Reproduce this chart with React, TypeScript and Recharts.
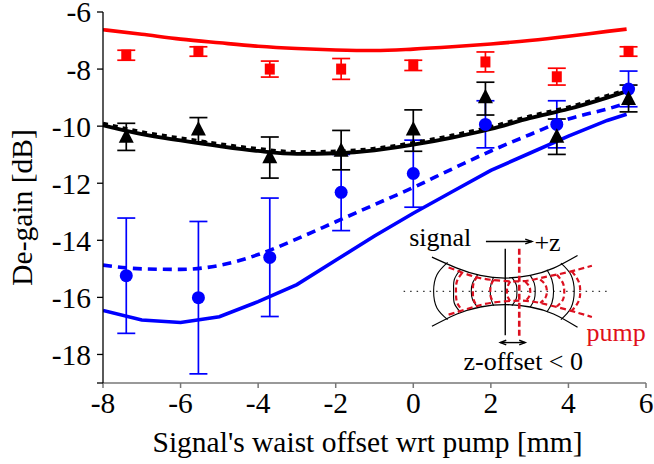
import React from "react";
import { ComposedChart, Line, Scatter, ErrorBar, XAxis, YAxis, ReferenceDot } from "recharts";

// Model curves
const curveX = [-8, -7, -6, -5, -4, -3, -2, -1, 0, 1, 2, 3, 4, 5, 5.5];
const redCurve = [-6.62, -6.78, -6.95, -7.08, -7.2, -7.28, -7.33, -7.35, -7.3, -7.22, -7.12, -7.0, -6.85, -6.68, -6.6];
const blackCurve = [-9.97, -10.28, -10.5, -10.7, -10.87, -10.97, -10.95, -10.85, -10.65, -10.4, -10.1, -9.72, -9.4, -9.0, -8.78];
const blackDashed = [-9.9, -10.2, -10.42, -10.62, -10.79, -10.9, -10.88, -10.78, -10.58, -10.32, -10.02, -9.65, -9.33, -8.93, -8.72];
const blueDashed = [-14.87, -15.0, -15.02, -14.88, -14.5, -13.95, -13.35, -12.75, -12.15, -11.5, -10.87, -10.3, -9.75, -9.4, -9.2];
const blueCurve = [-16.46, -16.79, -16.88, -16.68, -16.15, -15.55, -14.7, -13.85, -13.05, -12.3, -11.55, -10.95, -10.35, -9.8, -9.58];

// Measurements
const measX = [-7.4, -5.54, -3.7, -1.86, 0, 1.86, 3.7, 5.55];
const redY = [-7.51, -7.38, -8.0, -8.0, -7.86, -7.75, -8.27, -7.38];
const redHi = [-7.34, -7.22, -7.72, -7.63, -7.69, -7.4, -7.97, -7.22];
const redLo = [-7.69, -7.55, -8.28, -8.36, -8.05, -8.1, -8.56, -7.55];
const blackY = [-10.35, -10.1, -11.07, -10.84, -10.1, -8.97, -10.35, -9.03];
const blackHi = [-9.9, -9.7, -10.38, -10.15, -9.43, -8.46, -9.75, -8.56];
const blackLo = [-10.85, -10.55, -11.82, -11.53, -10.88, -9.61, -10.99, -9.5];
const blueY = [-15.24, -16.01, -14.6, -12.32, -11.66, -9.94, -9.94, -8.7];
const blueHi = [-13.22, -13.34, -12.52, -10.99, -10.49, -9.11, -9.11, -8.07];
const blueLo = [-17.26, -18.68, -16.67, -13.66, -12.84, -10.76, -10.76, -9.32];

const xTicks = [-8, -6, -4, -2, 0, 2, 4, 6];
const yTicks = [-19, -18, -16, -14, -12, -10, -8, -6];

// Inset schematic, in schematic units mapped to axis units by fromInset
type P = [number, number];
const fromInset = (pts: P[]) => pts.map(([a, b]) => ({ x: (a - 69) / 116.4, y: -13.458 - b / 85.8 }));
const signalEdges: P[][] = [
  [[125, 97], [200, 130], [270, 152], [345, 160], [420, 152], [490, 130], [562, 92]],
  [[125, 305], [200, 268], [270, 247], [345, 240], [420, 247], [490, 268], [562, 308]],
];
const signalFronts: P[][] = [
  [[172, 113], [140, 150], [130, 200], [140, 250], [172, 285]],
  [[210, 135], [192, 165], [190, 200], [192, 235], [210, 262]],
  [[262, 150], [247, 175], [243, 200], [247, 225], [262, 247]],
  [[310, 157], [302, 180], [300, 200], [302, 222], [310, 243]],
  [[365, 158], [378, 180], [380, 200], [378, 222], [365, 243]],
  [[420, 152], [432, 175], [435, 200], [432, 225], [420, 247]],
  [[470, 135], [485, 165], [490, 200], [485, 235], [470, 262]],
  [[512, 115], [542, 150], [552, 200], [542, 250], [512, 285]],
];
const pumpEdges: P[][] = [
  [[175, 128], [240, 152], [300, 165], [387, 170], [450, 160], [530, 143], [605, 123]],
  [[175, 270], [240, 250], [300, 235], [387, 228], [450, 235], [530, 255], [605, 277]],
];
const pumpFronts: P[][] = [
  [[215, 145], [200, 170], [197, 200], [200, 232], [215, 255]],
  [[262, 155], [250, 175], [248, 200], [250, 225], [262, 247]],
  [[310, 165], [302, 182], [300, 200], [302, 218], [310, 232]],
  [[360, 170], [352, 185], [350, 200], [352, 215], [360, 230]],
  [[405, 170], [417, 185], [420, 200], [417, 215], [405, 230]],
  [[450, 165], [465, 180], [470, 200], [465, 220], [450, 235]],
  [[500, 150], [518, 175], [522, 200], [518, 225], [500, 245]],
  [[545, 140], [565, 170], [570, 200], [565, 230], [545, 258]],
];
const straight: P[][] = [
  [[345, 72], [345, 332]],
  [[287, 50], [425, 50]],
  [[405, 43], [425, 50], [405, 57]],
  [[330, 354], [405, 354]],
  [[348, 347], [330, 354], [348, 361]],
  [[387, 347], [405, 354], [387, 361]],
];
const pumpWaist: P[] = [[387, 72], [387, 335]];
const axisLine: P[] = [[40, 200], [650, 200]];
const insetLabels: { at: P; text: string; color: string }[] = [
  { at: [150, 35], text: "signal", color: "#000" },
  { at: [472, 50], text: "+z", color: "#000" },
  { at: [678, 322], text: "pump", color: "#e0101a" },
  { at: [399, 410], text: "z-offset < 0", color: "#000" },
];

const row = (ys: number[]) => curveX.map((x, i) => ({ x, y: ys[i] }));
const meas = (ys: number[], hi: number[], lo: number[]) =>
  measX.map((x, i) => ({ x, y: ys[i], err: [ys[i] - lo[i], hi[i] - ys[i]] }));

const FONT = "'Liberation Serif', 'Times New Roman', serif";
const tickStyle = { fontFamily: FONT, fontSize: 29.5, fill: "#000" };

const Square = (p: any) => <rect x={p.cx - 5} y={p.cy - 5.5} width={10} height={11} fill="#f00" />;
const Circle = (p: any) => <circle cx={p.cx} cy={p.cy} r={6.5} fill="#00f" />;
const Tri = (p: any) => (
  <polygon points={`${p.cx},${p.cy - 8} ${p.cx + 7.5},${p.cy + 6.5} ${p.cx - 7.5},${p.cy + 6.5}`} fill="#000" />
);

const thin = (key: string, pts: P[], stroke: string, width: number, dash?: string) => (
  <Line key={key} data={fromInset(pts)} dataKey="y" type="natural" stroke={stroke} strokeWidth={width}
    strokeDasharray={dash} dot={false} activeDot={false} isAnimationActive={false} legendType="none" />
);

export default function App() {
  return (
    <div style={{ position: "fixed", left: 0, top: 0, width: 654, height: 464, background: "#fff" }}>
      <ComposedChart width={654} height={464} margin={{ top: 12, right: 8, left: 0, bottom: 0 }}>
        <XAxis type="number" dataKey="x" domain={[-8, 6]} ticks={xTicks} height={81} interval={0}
          tick={tickStyle} tickSize={5} tickMargin={4} stroke="#777" strokeWidth={1.5} allowDataOverflow
          label={{ value: "Signal's waist offset wrt pump [mm]", position: "insideBottom", offset: 12, dx: -7, style: { fontFamily: FONT, fontSize: 29.5, fill: "#000" } }} />
        <YAxis type="number" domain={[-19, -6]} ticks={yTicks} width={103} interval={0}
          tick={tickStyle} tickSize={6} tickMargin={6} stroke="#000" strokeWidth={1.3} allowDataOverflow
          tickFormatter={(v: number) => (v === -19 ? "" : String(v))}
          label={{ value: "De-gain [dB]", angle: -90, position: "insideLeft", offset: 22, dy: 10, style: { fontFamily: FONT, fontSize: 29.5, fill: "#000", textAnchor: "middle" } }} />

        {thin("axis", axisLine, "#333", 1.2, "1.5 5")}
        {signalEdges.map((p, i) => thin("se" + i, p, "#000", 1.3))}
        {signalFronts.map((p, i) => thin("sf" + i, p, "#000", 1.1))}
        {straight.map((p, i) => (
          <Line key={"st" + i} data={fromInset(p)} dataKey="y" type="linear" stroke="#000" strokeWidth={1.4}
            dot={false} activeDot={false} isAnimationActive={false} legendType="none" />
        ))}
        {pumpEdges.map((p, i) => thin("pe" + i, p, "#dc1020", 2.2, "6 3.5"))}
        {pumpFronts.map((p, i) => thin("pf" + i, p, "#dc1020", 2.2, "5 3"))}
        {thin("pw", pumpWaist, "#dc1020", 2.6, "6 3")}
        {insetLabels.map((l) => {
          const d = fromInset([l.at])[0];
          return (
            <ReferenceDot key={l.text} x={d.x} y={d.y} r={0} stroke="none" fill="none"
              label={{ value: l.text, position: "center", style: { fontFamily: FONT, fontSize: 26, fill: l.color } }} />
          );
        })}

        <Line data={row(blueCurve)} dataKey="y" type="linear" stroke="#00f" strokeWidth={3.6} dot={false} activeDot={false} isAnimationActive={false} />
        <Line data={row(blueDashed)} dataKey="y" type="monotone" stroke="#00f" strokeWidth={3.6} strokeDasharray="9 6" dot={false} activeDot={false} isAnimationActive={false} />
        <Scatter data={meas(blueY, blueHi, blueLo)} dataKey="y" shape={Circle} isAnimationActive={false}>
          <ErrorBar dataKey="err" direction="y" width={9} stroke="#00f" strokeWidth={1.7} isAnimationActive={false} />
        </Scatter>
        <Line data={row(blackCurve)} dataKey="y" type="monotone" stroke="#000" strokeWidth={3.8} dot={false} activeDot={false} isAnimationActive={false} />
        <Line data={row(blackDashed)} dataKey="y" type="monotone" stroke="#000" strokeWidth={3.4} strokeDasharray="5 5" dot={false} activeDot={false} isAnimationActive={false} />
        <Scatter data={meas(blackY, blackHi, blackLo)} dataKey="y" shape={Tri} isAnimationActive={false}>
          <ErrorBar dataKey="err" direction="y" width={9} stroke="#000" strokeWidth={1.7} isAnimationActive={false} />
        </Scatter>
        <Line data={row(redCurve)} dataKey="y" type="monotone" stroke="#f00" strokeWidth={3.6} dot={false} activeDot={false} isAnimationActive={false} />
        <Scatter data={meas(redY, redHi, redLo)} dataKey="y" shape={Square} isAnimationActive={false}>
          <ErrorBar dataKey="err" direction="y" width={9} stroke="#f00" strokeWidth={1.7} isAnimationActive={false} />
        </Scatter>
      </ComposedChart>
    </div>
  );
}
